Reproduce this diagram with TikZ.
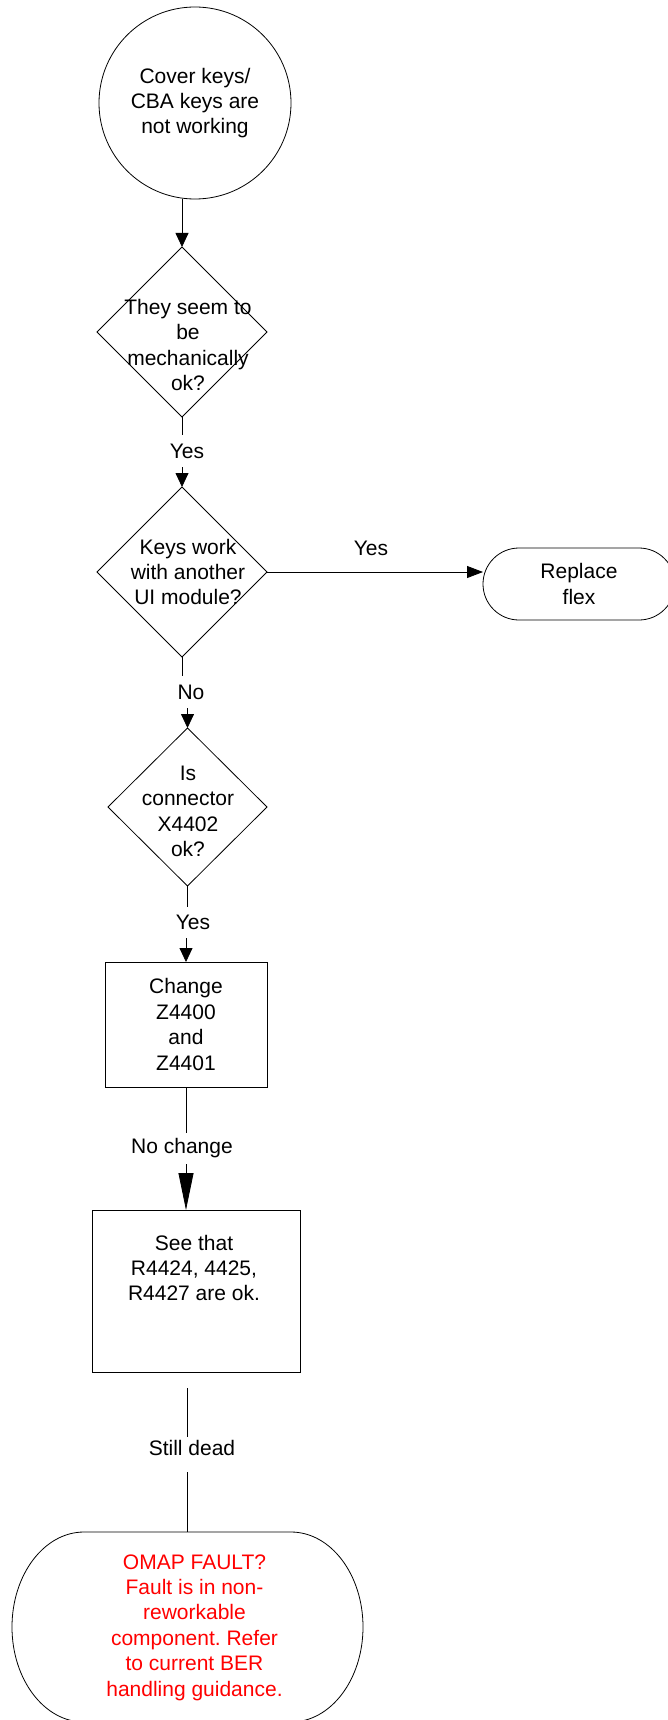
\documentclass[tikz,border=0pt]{standalone}
\usepackage{fontspec}
\setmainfont{Liberation Sans}
\frenchspacing
\usetikzlibrary{shapes.geometric,shapes.misc,arrows.meta}
\begin{document}
\begin{tikzpicture}[x=1pt,y=-1pt,
  every node/.style={font=\fontsize{21}{25.4}\selectfont, inner sep=0pt, outer sep=0pt},
  line/.style={draw=black, line width=0.8pt},
  decision/.style={line, diamond, minimum width=170pt, minimum height=170pt},
  process/.style={line, rectangle},
  txt/.style={align=center},
  lbl/.style={align=center, minimum height=32pt},
  arr/.style={line, -{Triangle[length=14pt,width=13pt]}},
  bigarr/.style={line, -{Triangle[length=37pt,width=15pt]}},
  sidearr/.style={line, -{Triangle[length=16pt,width=12pt]}},
]
\useasboundingbox (0,0) rectangle (668,1720);

% start
\node[line, circle, minimum size=192pt, txt] (start) at (195,103)
  {Cover keys/\\CBA keys are\\not working};

% first decision
\node[decision] (d1) at (182,332) {};
\node[txt] (t1) at (188,345) {They seem to\\be\\mechanically\\ok?};

% second decision
\node[decision] (d2) at (182,572) {};
\node[txt] (t2) at (188,572) {Keys work\\with another\\UI module?};

% replace flex terminator
\node[line, rounded rectangle, minimum width=192pt, minimum height=72pt, txt] (rf)
  at (579,584) {Replace\\flex};

% third decision
\node[decision, minimum width=159pt, minimum height=158pt] (d3) at (187.5,807) {};
\node[txt] (t3) at (188,811.5) {Is\\connector\\X4402\\ok?};

% process boxes
\node[process, minimum width=162pt, minimum height=125pt, txt] (b1) at (186,1024.5)
  {Change\\Z4400\\and\\Z4401};
\node[process, minimum width=208pt, minimum height=162pt] (b2) at (196,1291) {};
\node[txt] (t5) at (194,1268) {See that\\R4424, 4425,\\R4427 are ok.};

% final terminator
\node[minimum width=351pt, minimum height=190pt] (omap) at (187.5,1627) {};
\draw[line] ([xshift=72pt]omap.north west) -- ([xshift=-72pt]omap.north east)
  arc[start angle=90, end angle=0, x radius=72pt, y radius=95pt]
  arc[start angle=0, end angle=-90, x radius=72pt, y radius=95pt]
  -- ([xshift=72pt]omap.south west)
  arc[start angle=-90, end angle=-180, x radius=72pt, y radius=95pt]
  arc[start angle=180, end angle=90, x radius=72pt, y radius=95pt]
  -- cycle;
\node[txt, text=red] (t7) at (194.5,1627.5)
  {OMAP FAULT?\\Fault is in non-\\reworkable\\component. Refer\\to current BER\\handling guidance.};

% connector labels
\node[lbl] (l1) at (187,451) {Yes};
\node (l2) at (371,548) {Yes};
\node[lbl] (l3) at (191,692) {No};
\node[lbl, minimum height=31pt] (l4) at (193,922.5) {Yes};
\node[lbl, minimum height=31pt] (l5) at (182,1148.5) {No change};
\node[minimum height=22pt] (l6) at (192,1448) {Still dead};

% connectors
\draw[arr] (start.south -| d1.north) -- (d1.north);

\draw[line] (d1.south) -- (l1.north -| d1.south);
\draw[arr] (l1.south -| d2.north) -- (d2.north);

\draw[sidearr] (d2.east) -- (d2.east -| rf.west);

\draw[line] (d2.south) -- (l3.north -| d2.south);
\draw[arr] (l3.south -| d3.north) -- (d3.north);

\draw[line] (d3.south) -- (l4.north -| d3.south);
\draw[arr] (l4.south -| b1.north) -- (b1.north);

\draw[line] (b1.south) -- (l5.north -| b1.south);
\draw[bigarr] (l5.south -| b1.south) -- (b2.north -| b1.south);

\path (b2.south -| omap.north) ++(0,16) coordinate (s1);
\path (l6.south -| omap.north) ++(0,13) coordinate (s2);
\draw[line] (s1) -- (l6.north -| omap.north);
\draw[line] (s2) -- (omap.north);
\end{tikzpicture}
\end{document}
